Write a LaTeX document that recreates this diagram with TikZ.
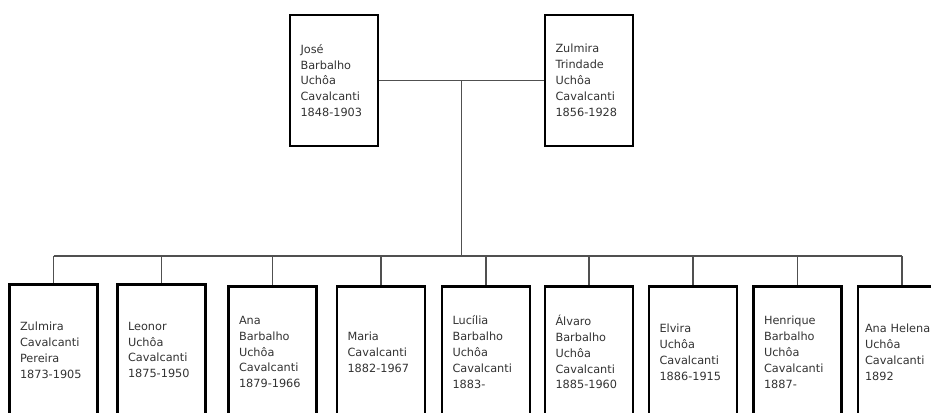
\documentclass[tikz,border=0pt]{standalone}
\usepackage{fontspec}
\setmainfont{DejaVu Sans}
\usetikzlibrary{positioning,calc}
\definecolor{ink}{HTML}{333333}
\definecolor{wire}{HTML}{505050}

\begin{document}
\begin{tikzpicture}[
    x=1pt, y=-1pt,
    person/.style={rectangle, draw=black, line width=2.8pt, fill=white, minimum width=88pt, minimum height=131pt, text width=67pt, inner xsep=10.5pt, align=left, text=ink, font=\fontsize{11.3}{15.9}\selectfont},
    link/.style={draw=wire, line width=1.5pt}
]
\path[use as bounding box, clip] (0,0) rectangle (931,412);

% parents
\node[person] (jose) at (334,80.5) {José\\Barbalho\\Uchôa\\Cavalcanti\\1848-1903};
\node[person] (zulmira) at (589,80.5) {Zulmira\\Trindade\\Uchôa\\Cavalcanti\\1856-1928};

% children
\node[person] (zulmirac) at (53.5,350) {Zulmira\\Cavalcanti\\Pereira\\1873-1905};
\node[person] (leonor) at (161.5,350) {Leonor\\Uchôa\\Cavalcanti\\1875-1950};
\node[person] (ana) at (272.5,352) {Ana\\Barbalho\\Uchôa\\Cavalcanti\\1879-1966};
\node[person] (maria) at (381,352) {Maria\\Cavalcanti\\1882-1967};
\node[person] (lucilia) at (486,352) {Lucília\\Barbalho\\Uchôa\\Cavalcanti\\1883-};
\node[person] (alvaro) at (589,352) {Álvaro\\Barbalho\\Uchôa\\Cavalcanti\\1885-1960};
\node[person] (elvira) at (693,352) {Elvira\\Uchôa\\Cavalcanti\\1886-1915};
\node[person] (henrique) at (797.5,352) {Henrique\\Barbalho\\Uchôa\\Cavalcanti\\1887-};
\node[person, text width=74pt, inner xsep=7pt] (anahelena) at (902,352) {Ana Helena\\Uchôa\\Cavalcanti\\1892};

% marriage line and bus
\coordinate (couple) at ($(jose.east)!0.5!(zulmira.west)$);
\coordinate (bus) at (462,256);
\draw[link] (jose) -- (zulmira);
\draw[link] (couple) -- (couple |- bus);
\draw[link] (zulmirac.north |- bus) -- (anahelena.north |- bus);
\foreach \kid in {zulmirac,leonor,ana,maria,lucilia,alvaro,elvira,henrique,anahelena}
    \draw[link] (\kid.north |- bus) -- (\kid.north);
\end{tikzpicture}
\end{document}
